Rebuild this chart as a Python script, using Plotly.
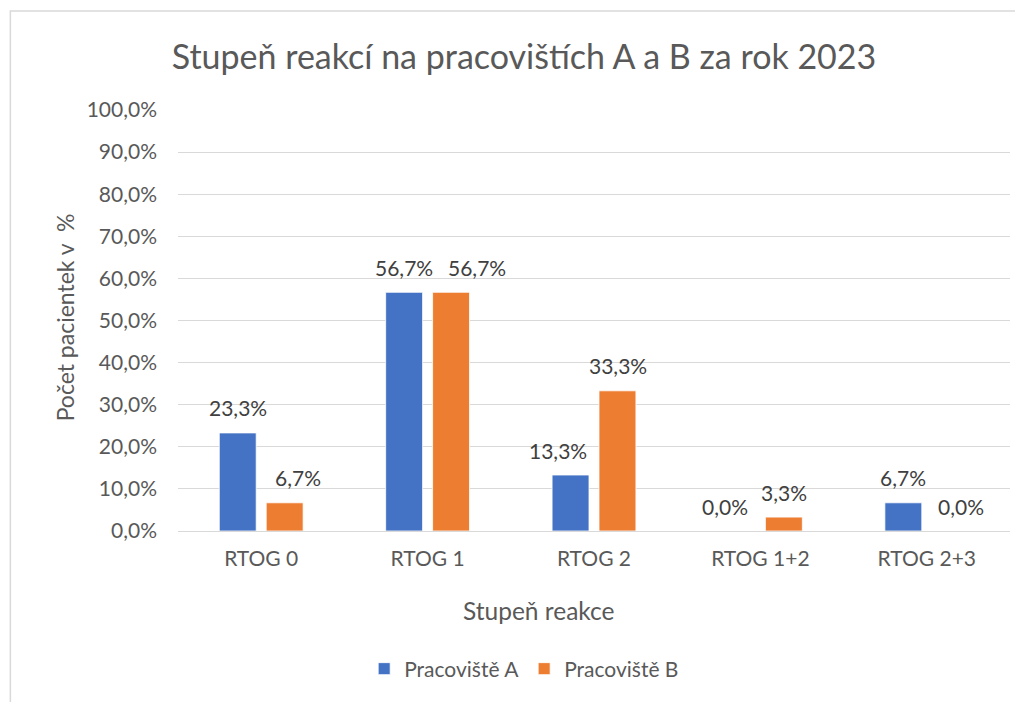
import plotly.graph_objects as go

categories = ["RTOG 0", "RTOG 1", "RTOG 2", "RTOG 1+2", "RTOG 2+3"]
series_a = [23.3, 56.7, 13.3, 0.0, 6.7]
series_b = [6.7, 56.7, 33.3, 3.3, 0.0]
series_names = ["Pracoviště A", "Pracoviště B"]
title_text = "Stupeň reakcí na pracovištích A a B za rok 2023"
x_title = "Stupeň reakce"
y_title = "Počet pacientek v  %"

# label placement nudges (px), as in the reference layout
label_nudge_a = [0, 0, -13, -12, 0]
label_nudge_b = [13, 26, 0, 0, 11]

OFF = 8  # default page body margin
W, H = 1023 - OFF, 702 - OFF
PL, PR, PT, PB = 177.7, 1010, 110, 531
L, T = PL - OFF, PT - OFF
R = W - (PR - OFF)
B = H - (PB - OFF)
pw = PR - PL
ph = PB - PT


def px(x):
    return (x - PL) / pw


def py(y):
    return (PB - y) / ph


FONT = "Lato"
TXT = "#595959"
colors = ["#4472C4", "#ED7D31"]

fig = go.Figure()
for name, vals, col in zip(series_names, [series_a, series_b], colors):
    fig.add_trace(go.Bar(
        x=categories, y=vals, name=name,
        marker=dict(color=col, line=dict(color="white", width=0.8)),
    ))

annotations = []
for vals, shift, nudges in zip([series_a, series_b], [-23.5, 23.5], [label_nudge_a, label_nudge_b]):
    for c, v, n in zip(categories, vals, nudges):
        annotations.append(dict(
            x=c, y=v, xref="x", yref="y", text=f"{v:.1f}%".replace(".", ","),
            showarrow=False, xshift=shift + n, yshift=25, yanchor="middle",
            font=dict(family=FONT, size=21, color="#404040"),
        ))

annotations.append(dict(
    x=px(538), y=py(610), xref="paper", yref="paper",
    text=x_title, showarrow=False, xanchor="center", yanchor="middle",
    font=dict(family=FONT, size=24.5, color=TXT)))
annotations.append(dict(
    x=px(65), y=py(317), xref="paper", yref="paper",
    text=y_title, showarrow=False, textangle=-90, xanchor="center", yanchor="middle",
    font=dict(family=FONT, size=23, color=TXT)))

fig.update_layout(
    width=W, height=H,
    margin=dict(l=L, r=R, t=T, b=B, autoexpand=False),
    paper_bgcolor="white", plot_bgcolor="white",
    separators=",.",
    barmode="group", bargap=0.436, bargroupgap=0.213,
    title=dict(text=title_text, x=(524 - OFF) / W, xanchor="center",
               y=1 - (57 - OFF) / H, yanchor="middle",
               xref="container", yref="container",
               font=dict(family=FONT, size=34, color=TXT)),
    font=dict(family=FONT, color=TXT),
    showlegend=True,
    legend=dict(orientation="h", x=px(524), xanchor="center", y=py(669),
                yanchor="middle", font=dict(family=FONT, size=21, color=TXT),
                itemwidth=30, traceorder="normal"),
    annotations=annotations,
    shapes=[dict(type="rect", xref="paper", yref="paper",
                 x0=px(10), x1=px(1040),
                 y0=py(720), y1=py(11),
                 line=dict(color="#D9D9D9", width=1.5), layer="below")],
)
fig.update_yaxes(range=[0, 100], dtick=10, tickformat=".1f", ticksuffix="%",
                 showgrid=True, gridcolor="#D9D9D9", gridwidth=1.3,
                 zeroline=False, showline=False, ticks="", ticklen=0, automargin=False,
                 ticklabelstandoff=20,
                 tickfont=dict(family=FONT, size=21, color=TXT))
fig.update_xaxes(showline=True, linecolor="#D9D9D9", linewidth=1.3, automargin=False,
                 ticklabelstandoff=9,
                 tickfont=dict(family=FONT, size=21, color=TXT), ticks="")
fig.write_html("out.html")
